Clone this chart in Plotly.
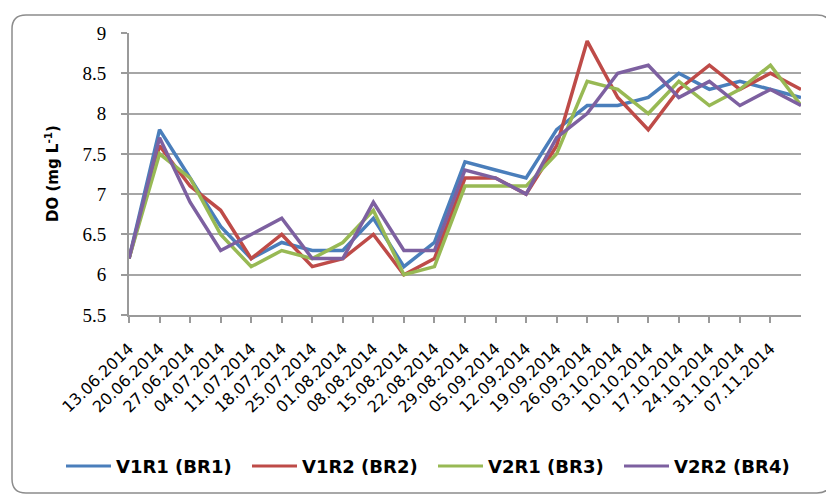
import plotly.graph_objects as go

dates = ["13.06.2014", "20.06.2014", "27.06.2014", "04.07.2014", "11.07.2014",
         "18.07.2014", "25.07.2014", "01.08.2014", "08.08.2014", "15.08.2014",
         "22.08.2014", "29.08.2014", "05.09.2014", "12.09.2014", "19.09.2014",
         "26.09.2014", "03.10.2014", "10.10.2014", "17.10.2014", "24.10.2014",
         "31.10.2014", "07.11.2014"]

v1r1 = [6.2, 7.8, 7.2, 6.6, 6.2, 6.4, 6.3, 6.3, 6.7, 6.1, 6.4, 7.4, 7.3, 7.2,
        7.8, 8.1, 8.1, 8.2, 8.5, 8.3, 8.4, 8.3, 8.2]
v1r2 = [6.2, 7.6, 7.1, 6.8, 6.2, 6.5, 6.1, 6.2, 6.5, 6.0, 6.2, 7.2, 7.2, 7.0,
        7.6, 8.9, 8.2, 7.8, 8.3, 8.6, 8.3, 8.5, 8.3]
v2r1 = [6.2, 7.5, 7.2, 6.5, 6.1, 6.3, 6.2, 6.4, 6.8, 6.0, 6.1, 7.1, 7.1, 7.1,
        7.5, 8.4, 8.3, 8.0, 8.4, 8.1, 8.3, 8.6, 8.1]
v2r2 = [6.2, 7.7, 6.9, 6.3, 6.5, 6.7, 6.2, 6.2, 6.9, 6.3, 6.3, 7.3, 7.2, 7.0,
        7.7, 8.0, 8.5, 8.6, 8.2, 8.4, 8.1, 8.3, 8.1]

y_ticks = [5.5, 6, 6.5, 7, 7.5, 8, 8.5, 9]
y_tick_labels = ["5.5", "6", "6.5", "7", "7.5", "8", "8.5", "9"]

series_names = ["V1R1 (BR1)", "V1R2 (BR2)", "V2R1 (BR3)", "V2R2 (BR4)"]
series_values = [v1r1, v1r2, v2r1, v2r2]
colors = ["#4a7ebb", "#be4b48", "#98b954", "#7d60a0"]

x_idx = list(range(len(v1r1)))

fig = go.Figure()
for name, vals, col in zip(series_names, series_values, colors):
    fig.add_trace(go.Scatter(x=x_idx, y=vals, mode="lines", name=name,
                             line=dict(color=col, width=3.5), showlegend=False))

# The page body adds an 8px margin, so the figure is sized/positioned
# so that page coordinates match the reference.
OFF = 8
PAGE_W, PAGE_H = 834, 496
W, H = PAGE_W - OFF, PAGE_H - OFF
plot_left, plot_right, plot_top, plot_bottom = 129, 801, 33, 315  # page px
L = plot_left - OFF
T = plot_top - OFF
R = PAGE_W - plot_right
B = PAGE_H - plot_bottom
pw, ph = plot_right - plot_left, plot_bottom - plot_top

def px(x):
    return (x - plot_left) / pw

def py(y):
    return (plot_bottom - y) / ph

# decorative rounded chart frame
x0, x1, y0, y1, r = 12, 831, 15, 493, 14
path = (f"M {px(x0 + r)},{py(y0)} L {px(x1 - r)},{py(y0)} "
        f"Q {px(x1)},{py(y0)} {px(x1)},{py(y0 + r)} "
        f"L {px(x1)},{py(y1 - r)} Q {px(x1)},{py(y1)} {px(x1 - r)},{py(y1)} "
        f"L {px(x0 + r)},{py(y1)} Q {px(x0)},{py(y1)} {px(x0)},{py(y1 - r)} "
        f"L {px(x0)},{py(y0 + r)} Q {px(x0)},{py(y0)} {px(x0 + r)},{py(y0)} Z")
fig.add_shape(type="path", path=path, xref="paper", yref="paper",
              line=dict(color="#8c8c8c", width=1.5), layer="below")

# legend drawn as line samples + labels
leg_y = 466
leg_start = 66
leg_step = 186
for i, (name, col) in enumerate(zip(series_names, colors)):
    sx = leg_start + i * leg_step
    fig.add_shape(type="line", xref="paper", yref="paper",
                  x0=px(sx), x1=px(sx + 45), y0=py(leg_y), y1=py(leg_y),
                  line=dict(color=col, width=3))
    fig.add_annotation(xref="paper", yref="paper", x=px(sx + 48), y=py(leg_y),
                       xanchor="left", yanchor="middle", showarrow=False,
                       text=name,
                       font=dict(family="DejaVu Sans", size=18, color="#000000",
                                 weight="bold"))

# y-axis title
fig.add_annotation(xref="paper", yref="paper", x=px(52), y=0.5,
                   xanchor="center", yanchor="middle", showarrow=False,
                   textangle=-90, text="DO (mg L<sup>-1</sup>)",
                   font=dict(family="DejaVu Sans", size=15, color="#000000",
                             weight="bold"))

fig.update_layout(
    width=W, height=H,
    margin=dict(l=L, r=R, t=T, b=B, pad=0),
    paper_bgcolor="white", plot_bgcolor="white",
    font=dict(family="DejaVu Sans", color="#000000"),
    showlegend=False,
    xaxis=dict(
        range=[0, len(v1r1) - 1],
        tickmode="array",
        tickvals=list(range(len(dates))),
        ticktext=dates,
        tickangle=-44,
        tickfont=dict(family="DejaVu Sans", size=16, color="#000000"),
        ticks="outside", ticklen=6, tickcolor="#9a9a9a", tickwidth=1.5,
        ticklabelstandoff=10,
        showgrid=False, zeroline=False,
        showline=True, linecolor="#9a9a9a", linewidth=2,
    ),
    yaxis=dict(
        range=[5.5, 9.0],
        tickmode="array",
        tickvals=y_ticks,
        ticktext=y_tick_labels,
        tickfont=dict(family="Liberation Serif", size=19, color="#000000"),
        ticks="outside", ticklen=6, tickcolor="#9a9a9a", tickwidth=1.5,
        ticklabelstandoff=11,
        showgrid=True, gridcolor="#a6a6a6", gridwidth=2,
        zeroline=False,
        showline=True, linecolor="#9a9a9a", linewidth=2,
    ),
)

fig.write_html("out.html")
